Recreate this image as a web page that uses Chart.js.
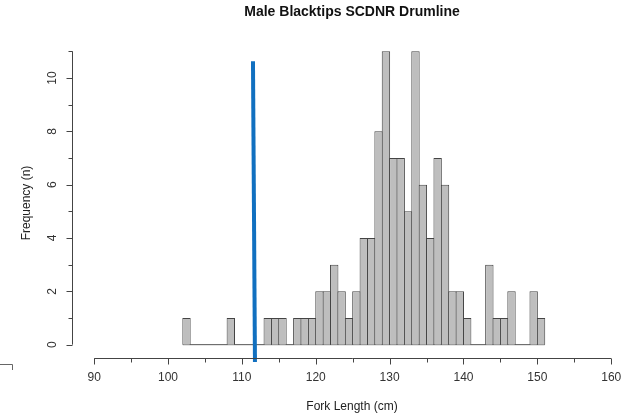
<!DOCTYPE html>
<html>
<head>
<meta charset="utf-8">
<script src="https://cdn.jsdelivr.net/npm/chart.js@4"></script>
<style>
  html, body { margin: 0; padding: 0; background: #fff; }
  #wrap { width: 626px; height: 420px; }
</style>
</head>
<body>
<div id="wrap"><canvas id="hist"></canvas></div>
<script>
// 1 cm bins, left edge of each bin
const binStarts = [
  102, 103, 104, 105, 106, 107, 108, 109, 110, 111, 112, 113, 114, 115, 116, 117,
  118, 119, 120, 121, 122, 123, 124, 125, 126, 127, 128, 129, 130, 131, 132, 133,
  134, 135, 136, 137, 138, 139, 140, 141, 142, 143, 144, 145, 146, 147, 148, 149, 150
];
const counts = [
  1, 0, 0, 0, 0, 0, 1, 0, 0, 0, 0, 1, 1, 1, 0, 1,
  1, 1, 2, 2, 3, 2, 1, 2, 4, 4, 8, 11, 7, 7, 5, 11,
  6, 4, 7, 6, 2, 2, 1, 0, 0, 3, 1, 1, 2, 0, 0, 2, 1
];
// size-at-maturity marker
const markerX = [111.5, 111.77];
const markerY = [10.63, -0.65];

const xTicks = [90, 95, 100, 105, 110, 115, 120, 125, 130, 135, 140, 145, 150, 155, 160];
const xTickLabels = ["90", "", "100", "", "110", "", "120", "", "130", "", "140", "", "150", "", "160"];
const yTicks = [0, 1, 2, 3, 4, 5, 6, 7, 8, 9, 10, 11];
const yTickLabels = ["0", "", "2", "", "4", "", "6", "", "8", "", "10", ""];

const FONT = '"Liberation Sans", Arial, sans-serif';
const INK = "#333";

// R-style detached axes, drawn from the scales
const baseAxes = {
  id: "baseAxes",
  beforeDatasetsDraw(chart) {
    const { ctx, scales: { x, y } } = chart;
    ctx.save();
    // zero-count bins show as a line along the baseline
    ctx.strokeStyle = "#555";
    ctx.lineWidth = 1;
    ctx.beginPath();
    ctx.moveTo(x.getPixelForValue(binStarts[0]), y.getPixelForValue(0));
    ctx.lineTo(x.getPixelForValue(binStarts[binStarts.length - 1] + 1), y.getPixelForValue(0));
    ctx.stroke();
    ctx.restore();
  },
  afterDraw(chart) {
    const { ctx, scales: { x, y } } = chart;
    ctx.save();
    ctx.strokeStyle = "#444";
    ctx.lineWidth = 1;
    ctx.fillStyle = INK;

    // x axis
    const ax = Math.round(chart.chartArea.bottom) + 0.5;
    ctx.beginPath();
    ctx.moveTo(x.getPixelForValue(xTicks[0]), ax);
    ctx.lineTo(x.getPixelForValue(xTicks[xTicks.length - 1]), ax);
    xTicks.forEach((v, i) => {
      const px = Math.round(x.getPixelForValue(v)) + 0.5;
      ctx.moveTo(px, ax);
      ctx.lineTo(px, ax + (xTickLabels[i] ? 6 : 4));
    });
    ctx.stroke();
    ctx.font = "12px " + FONT;
    ctx.textAlign = "center";
    ctx.textBaseline = "middle";
    xTicks.forEach((v, i) => {
      if (xTickLabels[i]) ctx.fillText(xTickLabels[i], x.getPixelForValue(v), 378);
    });

    // y axis
    const ay = 72.5;
    ctx.beginPath();
    ctx.moveTo(ay, y.getPixelForValue(yTicks[0]));
    ctx.lineTo(ay, y.getPixelForValue(yTicks[yTicks.length - 1]));
    yTicks.forEach((v, i) => {
      const py = Math.round(y.getPixelForValue(v)) + 0.5;
      ctx.moveTo(ay, py);
      ctx.lineTo(ay - (yTickLabels[i] ? 6 : 4), py);
    });
    ctx.stroke();
    yTicks.forEach((v, i) => {
      if (!yTickLabels[i]) return;
      ctx.save();
      ctx.translate(53, y.getPixelForValue(v));
      ctx.rotate(-Math.PI / 2);
      ctx.fillText(yTickLabels[i], 0, 0);
      ctx.restore();
    });

    // axis titles
    ctx.fillStyle = "#222";
    ctx.fillText("Fork Length (cm)", 352, 407);
    ctx.save();
    ctx.translate(27, 203);
    ctx.rotate(-Math.PI / 2);
    ctx.fillText("Frequency (n)", 0, 0);
    ctx.restore();

    // title
    ctx.font = "bold 14px " + FONT;
    ctx.fillStyle = "#111";
    ctx.fillText("Male Blacktips SCDNR Drumline", 352, 12);

    // stray corner mark at the lower left
    ctx.strokeStyle = "#666";
    ctx.beginPath();
    ctx.moveTo(0, 364.5);
    ctx.lineTo(12.5, 364.5);
    ctx.lineTo(12.5, 370);
    ctx.stroke();
    ctx.restore();
  }
};

new Chart(document.getElementById("hist"), {
  data: {
    datasets: [
      {
        type: "line",
        data: markerX.map((v, i) => ({ x: v, y: markerY[i] })),
        borderColor: "#1170c0",
        borderWidth: 4,
        pointRadius: 0,
        clip: false,
        order: 0
      },
      {
        type: "bar",
        data: binStarts.map((b, i) => ({ x: b + 0.5, y: counts[i] })),
        backgroundColor: "#bebebe",
        borderColor: "#444",
        borderWidth: { top: 1, left: 1, right: 1, bottom: 0 },
        borderSkipped: false,
        barPercentage: 1.135,
        categoryPercentage: 1,
        order: 1
      }
    ]
  },
  options: {
    responsive: true,
    maintainAspectRatio: false,
    animation: false,
    layout: { padding: { left: 72, right: 0, top: 38, bottom: 62 } },
    plugins: {
      legend: { display: false },
      tooltip: { enabled: false }
    },
    scales: {
      x: { type: "linear", min: 87, max: 162, offset: false, display: false },
      y: { type: "linear", min: -0.5, max: 11.5, display: false }
    }
  },
  plugins: [baseAxes]
});
</script>
</body>
</html>
